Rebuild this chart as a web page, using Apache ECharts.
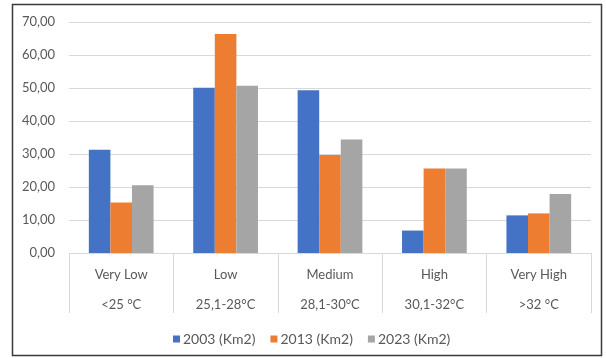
<!DOCTYPE html>
<html>
<head>
<meta charset="utf-8">
<style>
  html, body { margin: 0; padding: 0; background: #fff; }
  #chart { width: 606px; height: 358px; }
</style>
<script src="https://cdn.jsdelivr.net/npm/echarts@6/dist/echarts.min.js"></script>
</head>
<body>
<div id="chart"></div>
<script>
// Temperature classes: name and range
const classNames = ['Very Low', 'Low', 'Medium', 'High', 'Very High'];
const classRanges = ['<25 °C', '25,1-28°C', '28,1-30°C', '30,1-32°C', '>32 °C'];

// Area per temperature class (Km2)
const area2003 = [31.3, 50.1, 49.3, 6.8, 11.4];
const area2013 = [15.3, 66.4, 29.7, 25.6, 12.0];
const area2023 = [20.5, 50.7, 34.4, 25.6, 17.9];

const seriesNames = ['2003 (Km2)', '2013 (Km2)', '2023 (Km2)'];
const seriesColors = ['#4472C4', '#ED7D31', '#A5A5A5'];
const yTicks = { min: 0, max: 70, interval: 10 };

const FONT = 'Lato';
const TEXT = '#595959';

const chart = echarts.init(document.getElementById('chart'));
const values = [area2003, area2013, area2023];

chart.setOption({
  animation: false,
  backgroundColor: '#fff',
  textStyle: { fontFamily: FONT },
  grid: { left: 69, right: 15, top: 22, bottom: 105 },
  legend: {
    top: 327,
    left: 168,
    itemWidth: 7,
    itemHeight: 7,
    itemGap: 15,
    icon: 'rect',
    textStyle: { color: TEXT, fontSize: 14, fontFamily: FONT, padding: [0, 0, 0, -2] },
    data: seriesNames
  },
  xAxis: {
    type: 'category',
    data: classNames.map((n, i) => n + '\n' + classRanges[i]),
    axisLine: { show: true, lineStyle: { color: '#d9d9d9', width: 1 } },
    axisTick: { show: true, length: 60, lineStyle: { color: '#d9d9d9', width: 1 } },
    axisLabel: {
      color: TEXT,
      fontSize: 13,
      fontFamily: FONT,
      lineHeight: 30,
      margin: 7,
      interval: 0
    }
  },
  yAxis: {
    type: 'value',
    min: yTicks.min,
    max: yTicks.max,
    interval: yTicks.interval,
    axisLine: { show: false },
    axisTick: { show: false },
    splitLine: { lineStyle: { color: '#d9d9d9', width: 1 } },
    axisLabel: {
      color: TEXT,
      fontSize: 13,
      fontFamily: FONT,
      margin: 14,
      formatter: v => v.toFixed(2).replace('.', ',')
    }
  },
  series: seriesNames.map((name, i) => ({
    name,
    type: 'bar',
    data: values[i],
    barGap: '0%',
    barCategoryGap: '38%',
    itemStyle: { color: seriesColors[i] }
  })),
  graphic: [{
    type: 'rect',
    shape: { x: 12.5, y: 4.5, width: 589, height: 351 },
    style: { fill: 'none', stroke: '#3a3a3a', lineWidth: 1.5 },
    silent: true
  }]
});
</script>
</body>
</html>
